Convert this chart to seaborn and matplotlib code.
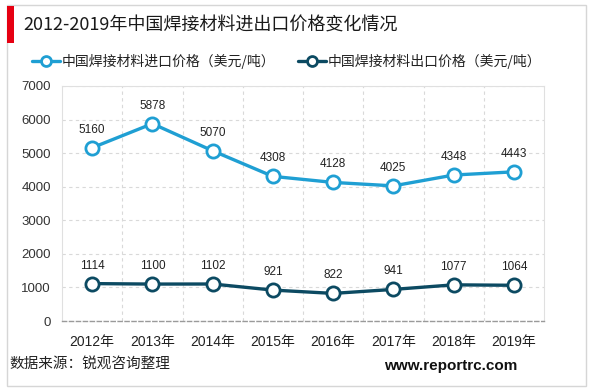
import matplotlib
matplotlib.use("Agg")
import matplotlib.pyplot as plt
import seaborn as sns
import pandas as pd
from matplotlib.patches import Rectangle
from matplotlib.ticker import FixedLocator

years = ["2012年", "2013年", "2014年", "2015年", "2016年", "2017年", "2018年", "2019年"]
import_price = [5160, 5878, 5070, 4308, 4128, 4025, 4348, 4443]
export_price = [1114, 1100, 1102, 921, 822, 941, 1077, 1064]
import_label = "中国焊接材料进口价格（美元/吨）"
export_label = "中国焊接材料出口价格（美元/吨）"
title = "2012-2019年中国焊接材料进出口价格变化情况"
source = "数据来源：锐观咨询整理"
site = "www.reportrc.com"
y_ticks = [0, 1000, 2000, 3000, 4000, 5000, 6000, 7000]

c_imp = "#1f9fd3"
c_exp = "#0c4a62"

sns.set_theme(style="white")
plt.rcParams["font.family"] = ["Liberation Sans", "Noto Sans CJK SC", "DejaVu Sans"]
cjk = ["Noto Sans CJK SC", "DejaVu Sans"]

fig = plt.figure(figsize=(6, 3.91), dpi=100)
ax = fig.add_axes([62 / 600, 1 - 321 / 391, (544 - 62) / 600, (321 - 86) / 391])

# outer frame and red bar
fig.patches.append(Rectangle((7 / 600, 1 - 386 / 391), 579 / 600, 381 / 391,
                             transform=fig.transFigure, fill=False,
                             edgecolor="#d6d6d6", linewidth=1.0))
fig.patches.append(Rectangle((7 / 600, 1 - 43 / 391), 7 / 600, 37 / 391,
                             transform=fig.transFigure, facecolor="#e60012",
                             edgecolor="none"))

df_imp = pd.DataFrame({"year": years, "price": import_price})
df_exp = pd.DataFrame({"year": years, "price": export_price})

for df, col, lab in [(df_imp, c_imp, import_label), (df_exp, c_exp, export_label)]:
    sns.lineplot(data=df, x="year", y="price", ax=ax, sort=False, color=col,
                 linewidth=2.4, marker="o", markersize=9.5,
                 markerfacecolor="white", markeredgecolor=col,
                 markeredgewidth=2.0, label=lab, legend=False, zorder=3)
    for i, v in enumerate(df["price"]):
        ax.annotate(str(v), (i, v), xytext=(0, 13), textcoords="offset points",
                    ha="center", va="center", fontsize=8.5, color="#222222",
                    family=["Liberation Sans"])

ax.set_xlim(-0.5, len(years) - 0.5)
ax.set_ylim(0, 7000)
ax.set_yticks(y_ticks)
ax.set_yticklabels([str(t) for t in y_ticks], fontsize=9.5, color="#333333")
ax.set_xticks(range(len(years)))
ax.set_xticklabels(years, fontsize=10, color="#222222")
ax.xaxis.set_minor_locator(FixedLocator([i + 0.5 for i in range(len(years) - 1)]))
ax.tick_params(axis="both", which="both", length=0)
ax.tick_params(axis="x", pad=10)
ax.tick_params(axis="y", pad=8)
ax.set_xlabel("")
ax.set_ylabel("")
ax.yaxis.grid(True, linestyle=(0, (3, 3)), color="#d9d9d9", linewidth=0.8)
ax.xaxis.grid(True, which="minor", linestyle=(0, (3, 3)), color="#d9d9d9", linewidth=0.8)
ax.xaxis.grid(False, which="major")
ax.set_axisbelow(True)
for s in ["top", "right", "left"]:
    ax.spines[s].set_color("#e0e0e0")
    ax.spines[s].set_linewidth(0.8)
ax.spines["bottom"].set_color("#9a9a9a")
ax.spines["bottom"].set_linestyle((0, (3, 2)))
ax.spines["bottom"].set_linewidth(1.0)

# title
fig.text(23 / 600, 1 - 26 / 391, title, fontsize=13, color="#1a1a1a",
         ha="left", va="center", family=cjk)

# legends
lines = ax.get_lines()
h_imp = [l for l in lines if l.get_label() == import_label][0]
h_exp = [l for l in lines if l.get_label() == export_label][0]
for h, lab, x0 in [(h_imp, import_label, 32), (h_exp, export_label, 298)]:
    fig.legend([h], [lab], loc="center left",
               bbox_to_anchor=(x0 / 600, 1 - 61 / 391), frameon=False,
               borderpad=0, borderaxespad=0, handlelength=2.0,
               handletextpad=0.15, markerscale=0.75,
               prop={"family": cjk, "size": 10},
               labelcolor="#222222")

# footer
fig.text(9 / 600, 1 - 364 / 391, source, fontsize=10.5, color="#222222",
         ha="left", va="center", family=cjk)
fig.text(384 / 600, 1 - 366 / 391, site, fontsize=11, fontweight="bold",
         color="#111111", ha="left", va="center", family=["Liberation Sans"])

fig.savefig("out.png", dpi=100)
